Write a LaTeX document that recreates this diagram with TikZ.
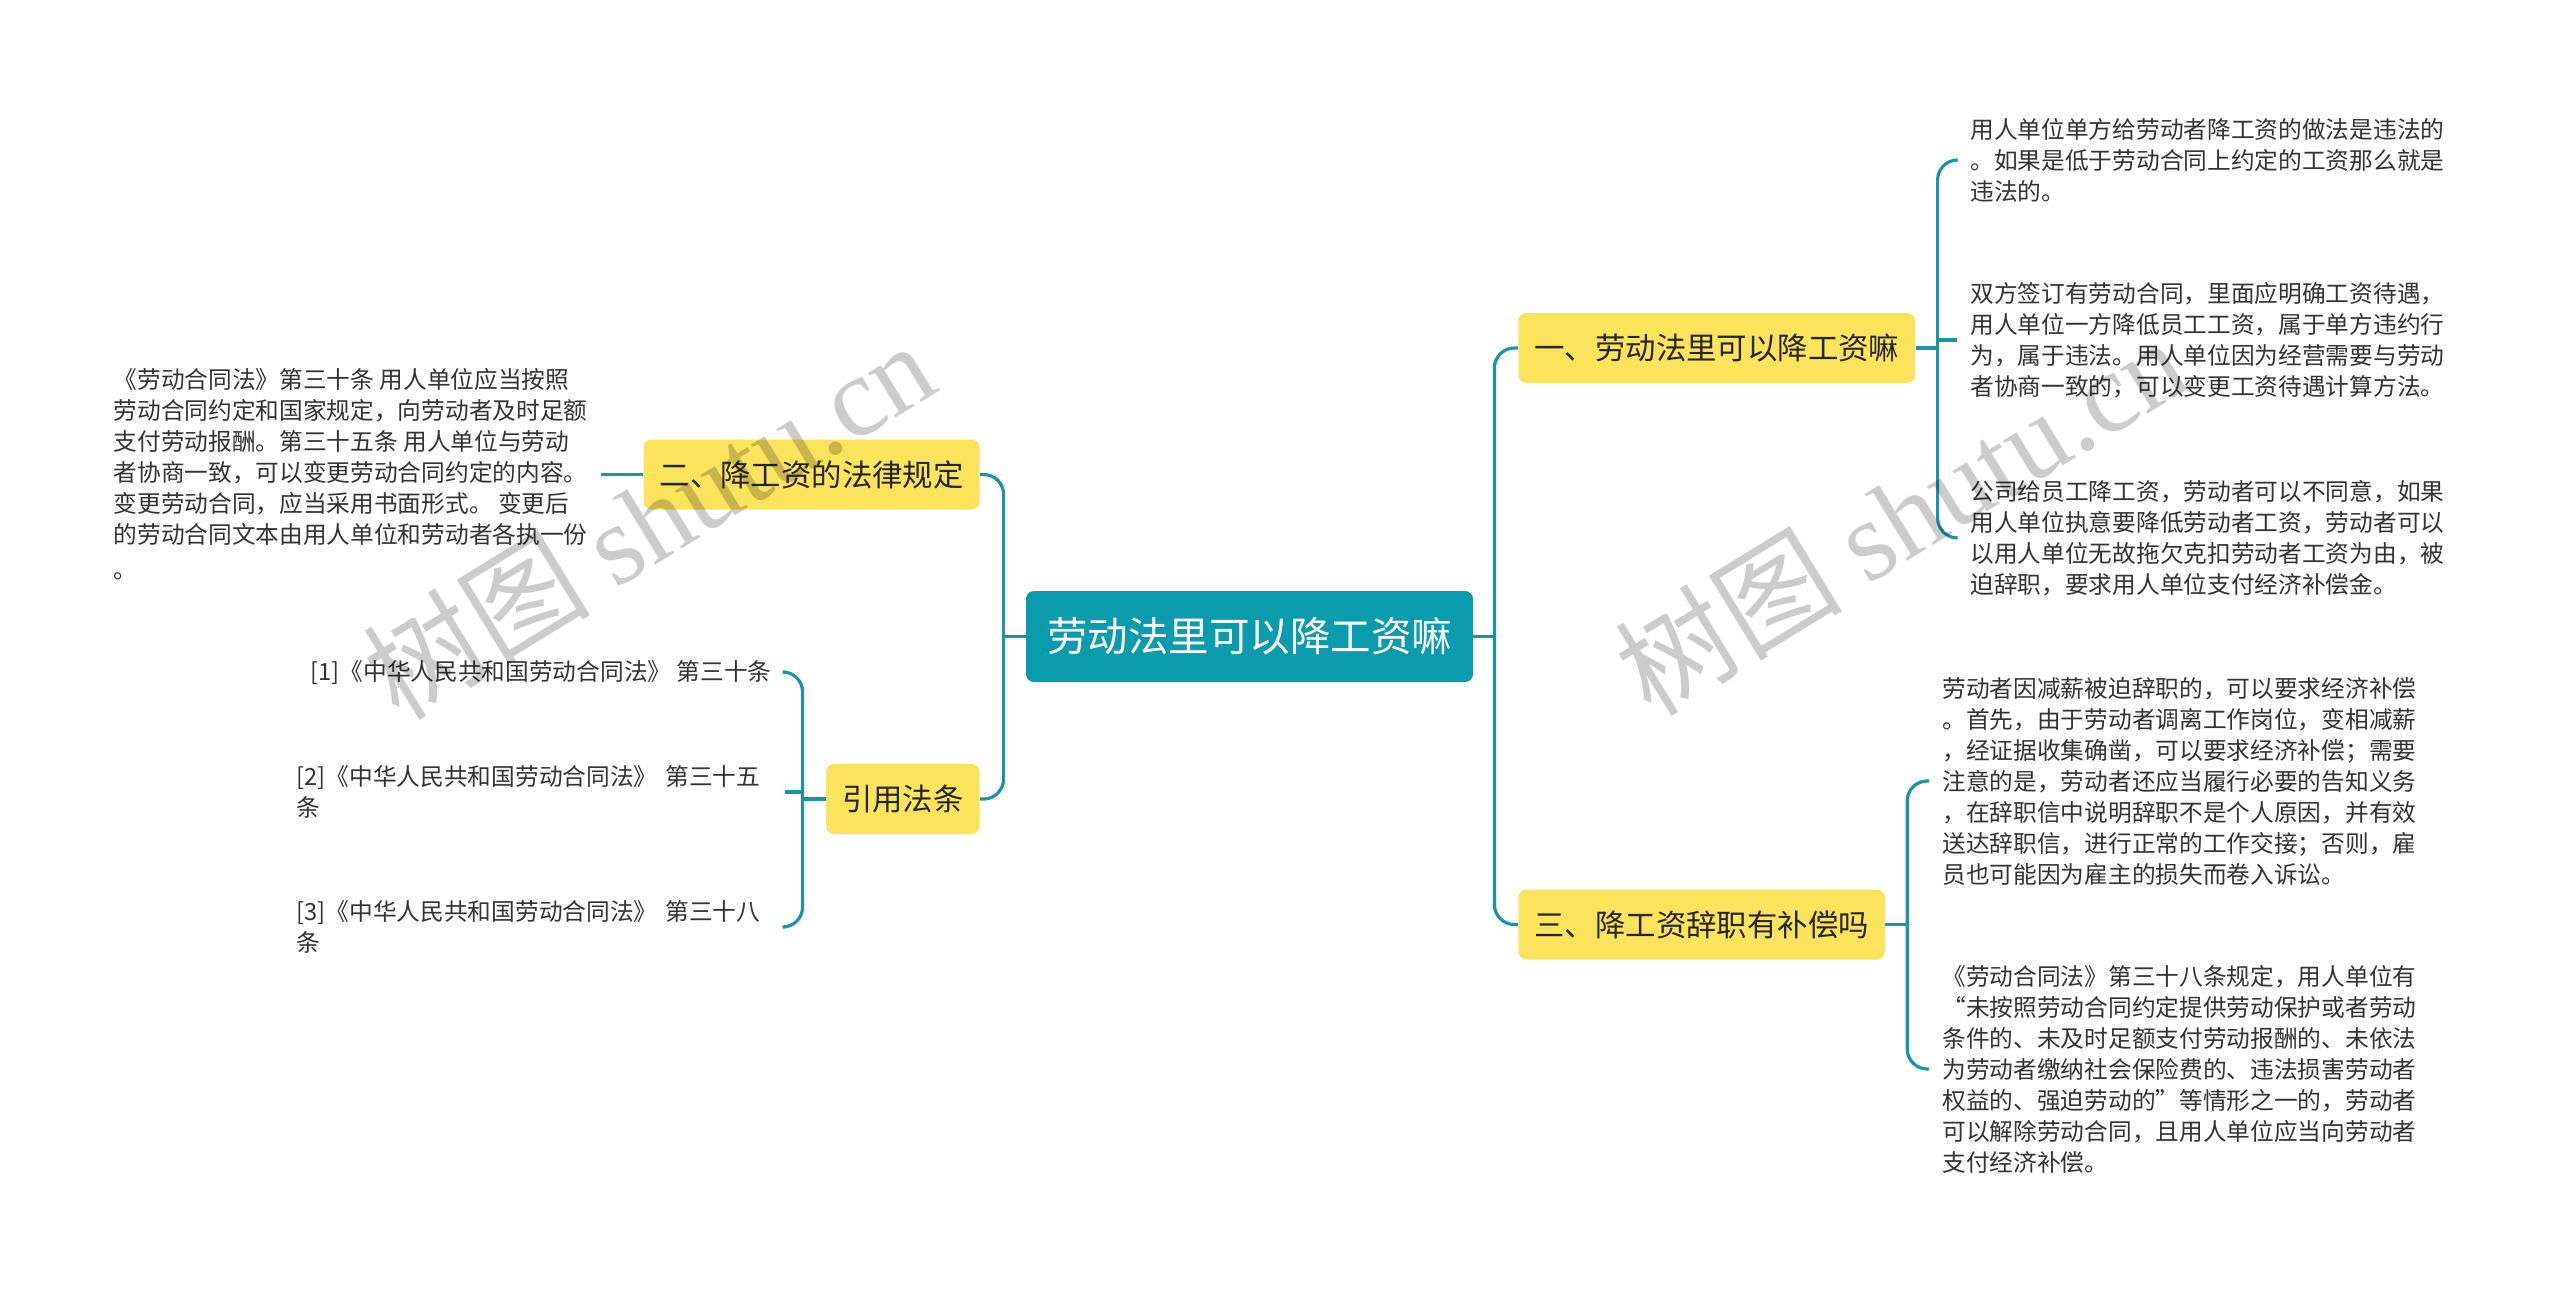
\documentclass[tikz,border=0pt]{standalone}
\usepackage{fontspec}
\setmainfont{Noto Sans CJK SC}
\newfontfamily\wmlatin{Liberation Serif}
\usepackage{xcolor}
\usetikzlibrary{positioning}

\definecolor{rootteal}{HTML}{0A9BAD}
\definecolor{linecol}{HTML}{1A95A8}
\definecolor{topicyel}{HTML}{FCE35C}
\definecolor{txtgray}{HTML}{333333}

\begin{document}
\begin{tikzpicture}[x=0.5pt,y=0.5pt,yscale=-1,
  conn/.style={draw=linecol,line width=1.6pt,rounded corners=10pt},
  rootbox/.style={fill=rootteal,text=white,rounded corners=4pt,minimum height=45.5pt,inner xsep=10.5pt,font=\fontsize{20.25}{24}\selectfont},
  topic/.style={fill=topicyel,text=black!85,rounded corners=4pt,minimum height=35pt,inner xsep=8pt,font=\fontsize{15.2}{18}\selectfont},
  leaf/.style={text=txtgray,align=left,inner xsep=6.5pt,inner ysep=2pt,font=\fontsize{11.85}{15.5}\selectfont},
  wmark/.style={rotate=31.5,text=black,text opacity=0.2,font=\fontsize{57}{57}\selectfont}]

\useasboundingbox (0,0) rectangle (2560,1290);

% Root and topics
\draw (1249.5,636.5) node (root) [rootbox] {劳动法里可以降工资嘛};
\draw (1518,348) node (b1) [anchor=west][topic] {一、劳动法里可以降工资嘛};
\draw (980,474.5) node (b2) [anchor=east][topic] {二、降工资的法律规定};
\draw (1518,924.5) node (b3) [anchor=west][topic] {三、降工资辞职有补偿吗};
\draw (980,799) node (b4) [anchor=east][topic] {引用法条};

\coordinate[left=11pt of root] (jl);
\coordinate[right=10.5pt of root] (jr);
\coordinate[right=11pt of b1] (v1);
\coordinate[right=11pt of b3] (v3);
\coordinate[left=11.5pt of b4] (v4);

% Text Node
\draw (1957,160) node (t11) [anchor=west][leaf] {用人单位单方给劳动者降工资的做法是违法的\\。如果是低于劳动合同上约定的工资那么就是\\违法的。};
\draw (1957,340) node (t12) [anchor=west][leaf] {双方签订有劳动合同，里面应明确工资待遇，\\用人单位一方降低员工工资，属于单方违约行\\为，属于违法。用人单位因为经营需要与劳动\\者协商一致的，可以变更工资待遇计算方法。};
\draw (1957,538) node (t13) [anchor=west][leaf] {公司给员工降工资，劳动者可以不同意，如果\\用人单位执意要降低劳动者工资，劳动者可以\\以用人单位无故拖欠克扣劳动者工资为由，被\\迫辞职，要求用人单位支付经济补偿金。};
\draw (601,474.5) node (t21) [anchor=east][leaf] {《劳动合同法》第三十条 用人单位应当按照\\劳动合同约定和国家规定，向劳动者及时足额\\支付劳动报酬。第三十五条 用人单位与劳动\\者协商一致，可以变更劳动合同约定的内容。\\变更劳动合同，应当采用书面形式。 变更后\\的劳动合同文本由用人单位和劳动者各执一份\\[2pt]。};
\draw (1929,781) node (t31) [anchor=west][leaf] {劳动者因减薪被迫辞职的，可以要求经济补偿\\。首先，由于劳动者调离工作岗位，变相减薪\\，经证据收集确凿，可以要求经济补偿；需要\\注意的是，劳动者还应当履行必要的告知义务\\，在辞职信中说明辞职不是个人原因，并有效\\送达辞职信，进行正常的工作交接；否则，雇\\员也可能因为雇主的损失而卷入诉讼。};
\draw (1929,1069) node (t32) [anchor=west][leaf] {《劳动合同法》第三十八条规定，用人单位有\\“未按照劳动合同约定提供劳动保护或者劳动\\条件的、未及时足额支付劳动报酬的、未依法\\为劳动者缴纳社会保险费的、违法损害劳动者\\权益的、强迫劳动的”等情形之一的，劳动者\\可以解除劳动合同，且用人单位应当向劳动者\\支付经济补偿。};
\draw (785,672) node (t41) [anchor=east][leaf] {[1]《中华人民共和国劳动合同法》 第三十条};
\draw (785,792) node (t42) [anchor=east][leaf,text width=237.5pt] {[2]《中华人民共和国劳动合同法》 第三十五\\条};
\draw (785,927) node (t43) [anchor=east][leaf,text width=237.5pt] {[3]《中华人民共和国劳动合同法》 第三十八\\条};

% Connectors
\draw [conn] (root.west) -- (jl);
\draw [conn] (b2.east) -| (jl) |- (b4.east);
\draw [conn] (root.east) -- (jr);
\draw [conn] (b1.west) -| (jr) |- (b3.west);

\draw [conn] (b1.east) -- (v1);
\draw [conn] (t11.west) -| (v1) |- (t13.west);
\draw [conn] (v1 |- t12.west) -- (t12.west);

\draw [conn] (t21.east) -- (b2.west);

\draw [conn] (b3.east) -- (v3);
\draw [conn] (t31.west) -| (v3) |- (t32.west);

\draw [conn] (b4.west) -- (v4);
\draw [conn] (t41.east) -| (v4) |- (t43.east);
\draw [conn] (v4 |- t42.east) -- (t42.east);

% Watermark
\draw (648,519) node (wm1) [wmark] {树图 {\wmlatin shutu.cn}};
\draw (1900,515) node (wm2) [wmark] {树图 {\wmlatin shutu.cn}};

\end{tikzpicture}
\end{document}
